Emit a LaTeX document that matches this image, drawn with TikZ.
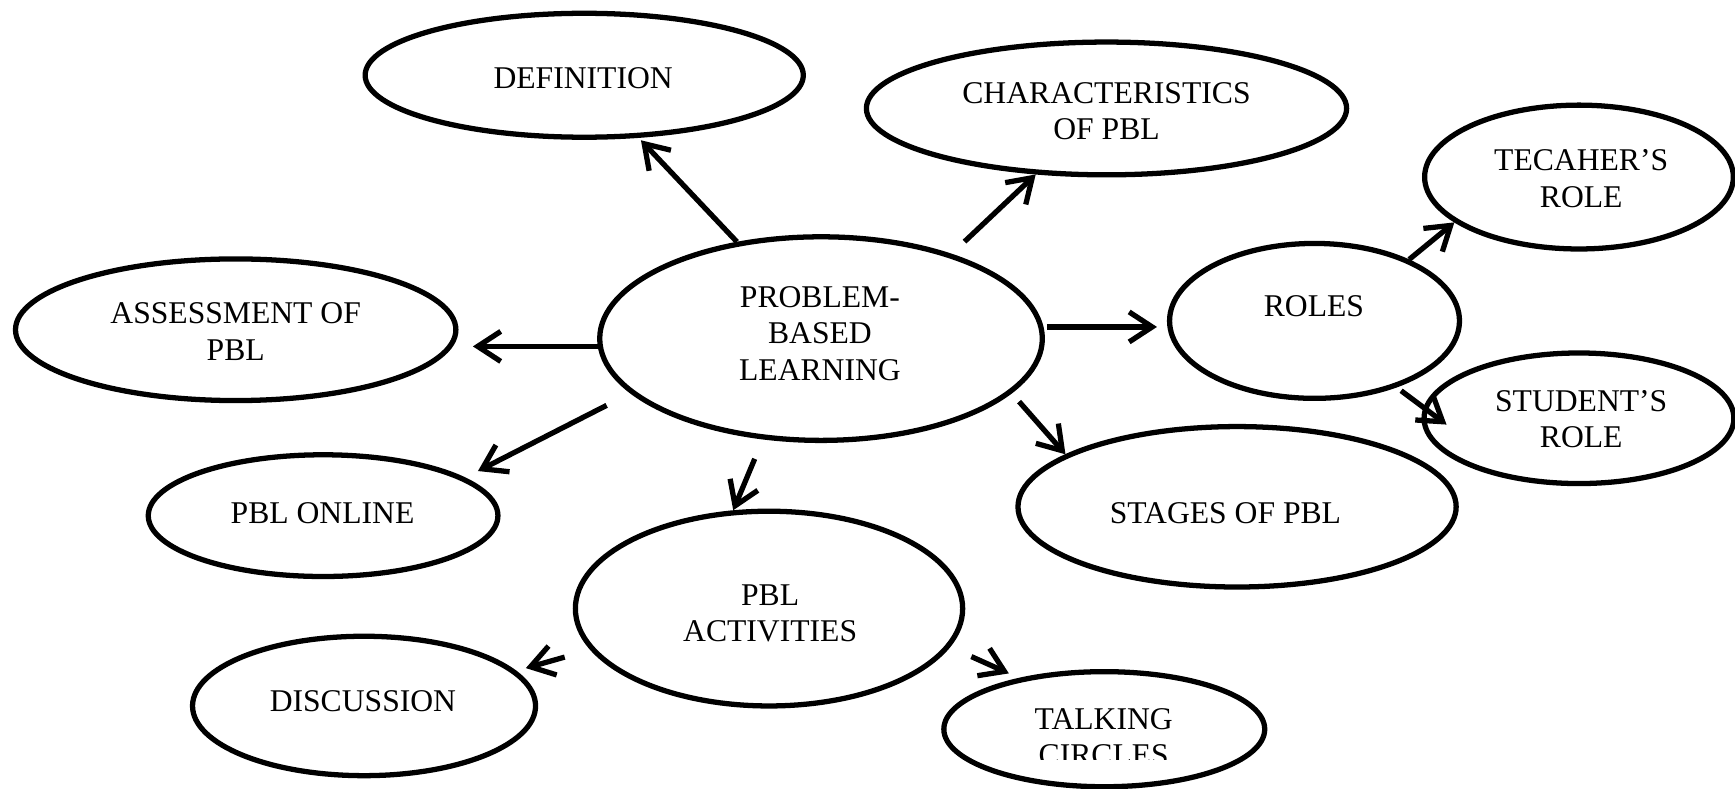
\documentclass[tikz,border=0pt]{standalone}
\usepackage{fontspec}
\setmainfont{Liberation Serif}
\usetikzlibrary{shapes.geometric,arrows.meta}
\newdimen\upx \upx=0.11065mm
\begin{document}
\begin{tikzpicture}[x=0.11065mm,y=-0.11065mm,
  ell/.style={draw, ellipse, line width=1.5pt, inner sep=0pt},
  txt/.style={align=center, font=\fontsize{9}{10.35}\selectfont, inner sep=0pt},
  arr/.style={line width=1.5pt, -{Straight Barb[length=2.3mm,width=3mm]}}]
\useasboundingbox (0,0) rectangle (1568,713);

% ellipses
\node[ell, minimum width=396\upx, minimum height=112\upx] (def)    at (528,68)  {};
\node[ell, minimum width=434\upx, minimum height=120\upx] (char)   at (1000,98) {};
\node[ell, minimum width=279\upx, minimum height=130\upx] (teach)  at (1427,160) {};
\node[ell, minimum width=400\upx, minimum height=184\upx] (pbl)    at (742,306) {};
\node[ell, minimum width=398\upx, minimum height=128\upx] (assess) at (213,298) {};
\node[ell, minimum width=262\upx, minimum height=140\upx] (roles)  at (1188,290) {};
\node[ell, minimum width=280\upx, minimum height=118\upx] (stud)   at (1427,378) {};
\node[ell, minimum width=316\upx, minimum height=110\upx] (online) at (292,466) {};
\node[ell, minimum width=396\upx, minimum height=145\upx] (stages) at (1118,458) {};
\node[ell, minimum width=350\upx, minimum height=176\upx] (act)    at (695,550) {};
\node[ell, minimum width=310\upx, minimum height=126\upx] (disc)   at (329,638) {};
\node[ell, minimum width=290\upx, minimum height=104\upx] (talk)   at (998,659) {};

% texts
\node[txt] (tdef)    at (527,71)    {DEFINITION};
\node[txt] (tchar)   at (1000,100.5) {CHARACTERISTICS\\OF PBL};
\node[txt] (tteach)  at (1429,161.5) {TECAHER’S\\ROLE};
\node[txt] (tpbl)    at (741,301.5) {PROBLEM-\\BASED\\LEARNING};
\node[txt] (tassess) at (213,299.5) {ASSESSMENT OF\\PBL};
\node[txt] (troles)  at (1187.5,277) {ROLES};
\node[txt] (tstud)   at (1429,379)  {STUDENT’S\\ROLE};
\node[txt] (tonline) at (291.5,464) {PBL ONLINE};
\node[txt] (tstages) at (1107.5,464) {STAGES OF PBL};
\node[txt] (tact)    at (696,554.5) {PBL\\ACTIVITIES};
\node[txt] (tdisc)   at (328,634)   {DISCUSSION};
\begin{scope}
  \clip (850,600) rectangle (1145,686.5);
  \node[txt] (ttalk) at (997.5,666) {TALKING\\CIRCLES};
\end{scope}

% connectors
\draw[arr, shorten >=3\upx] (pbl.131) -- (def.-49);
\draw[arr, shorten <=16\upx] (pbl.33) -- (char.223);
\draw[arr] (roles.33) -- (teach.200);
\draw[arr, shorten >=13\upx] (pbl.182.2) -- (pbl.182.2 -| assess.east);
\draw[arr, shorten <=3\upx, shorten >=9\upx] (pbl.3.4) -- (pbl.3.4 -| roles.west);
\draw[arr, shorten <=5\upx, shorten >=-26\upx] (roles.-39) -- (stud.176.6);
\draw[arr, shorten <=24\upx, shorten >=13\upx] (pbl.196) -- (online.15);
\draw[arr, shorten <=19\upx] (pbl.240.7) -- (act.110);
\draw[arr, shorten <=10\upx] (pbl.-16.5) -- (stages.163);
\draw[arr, shorten <=24\upx, shorten >=9\upx] (act.193) -- (disc.13);
\draw[arr, shorten <=21\upx, shorten >=10\upx] (act.-12.5) -- (talk.149);
\end{tikzpicture}
\end{document}
